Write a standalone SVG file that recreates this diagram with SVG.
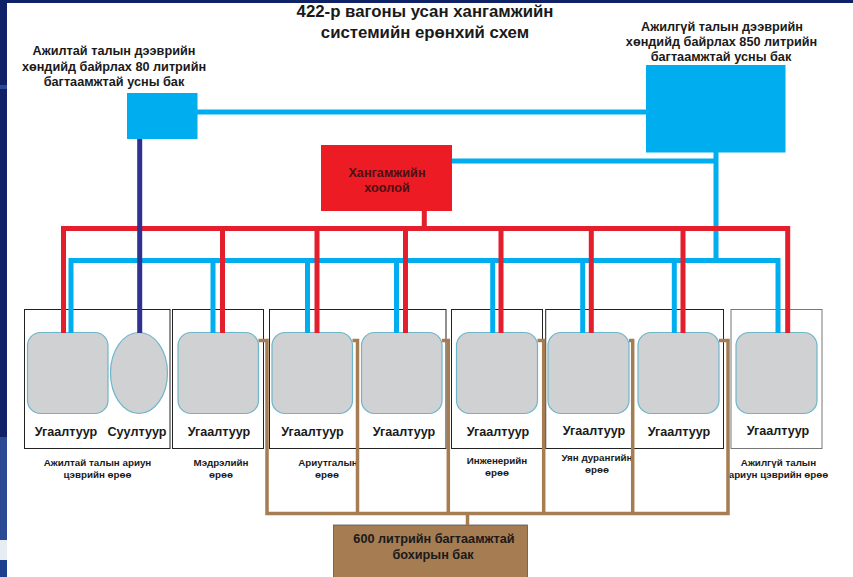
<svg xmlns="http://www.w3.org/2000/svg" width="853" height="577" viewBox="0 0 853 577">
<style>
text{font-family:"Liberation Sans",Arial,sans-serif;font-weight:bold;text-anchor:middle;fill:#1a1a1a}
.t{font-size:16.8px}.l{font-size:12.7px}.u{font-size:12.6px}.c{font-size:9.8px}
.b{fill:#00aeef}.r{fill:#ed1c24}.room{fill:none;stroke:#222;stroke-width:1}
.g{fill:#cfd1d3;stroke:#6fb5c9;stroke-width:1.2}
.pb{fill:none;stroke:#00aeef;stroke-width:5}.pr{fill:none;stroke:#e31e2d;stroke-width:5}
.pw{fill:none;stroke:#a67c52;stroke-width:3.500}
</style>
<rect width="853" height="577" fill="#0f2268"/>
<rect x="0" y="85" width="7" height="4" fill="#2a4a96"/>
<rect x="0" y="437" width="7" height="103" fill="#2a4a96"/>
<rect x="0" y="540" width="7" height="20" fill="#e8edf4"/>
<rect x="0" y="560" width="7" height="17" fill="#1c3f8e"/>
<rect x="7" y="3" width="846" height="574" fill="#fff"/>
<text class="t" x="425" y="17">422-р вагоны усан хангамжийн</text>
<text class="t" x="425" y="38">системийн ерөнхий схем</text>
<g id="tank-80"><rect class="b" x="127" y="93" width="70.500" height="46"/>
<text class="l" x="114" y="55">Ажилтай талын дээврийн</text><text class="l" x="114" y="71">хөндийд байрлах 80 литрийн</text><text class="l" x="114" y="86">багтаамжтай усны бак</text></g>
<g id="tank-850"><rect class="b" x="646" y="65" width="139.500" height="87.500"/>
<text class="l" x="722" y="31">Ажилгүй талын дээврийн</text><text class="l" x="721.500" y="45.500">хөндийд байрлах 850 литрийн</text><text class="l" x="721" y="61">багтаамжтай усны бак</text></g>
<g id="supply"><rect class="r" x="321" y="145" width="131" height="66"/>
<text class="l" x="387" y="177" style="fill:#4a1015">Хангамжийн</text><text class="l" x="387" y="192" style="fill:#4a1015">хоолой</text></g>
<g id="room-1"><rect class="room" x="24.500" y="309.500" width="145.500" height="139"/>
<rect class="g" x="27.500" y="332.500" width="80.500" height="81" rx="13"/><ellipse class="g" cx="139" cy="373" rx="28.500" ry="40.500"/>
<text class="u" x="66" y="436">Угаалтуур</text><text class="u" x="137" y="436">Суултуур</text>
<text class="c" x="97.500" y="466">Ажилтай талын ариун</text><text class="c" x="97.500" y="478">цэврийн өрөө</text></g>
<g id="room-2"><rect class="room" x="172.500" y="309.500" width="91" height="139"/>
<rect class="g" x="178" y="332.500" width="80.500" height="81" rx="13"/>
<text class="u" x="219" y="436">Угаалтуур</text>
<text class="c" x="221" y="466">Мэдрэлийн</text><text class="c" x="221" y="478">өрөө</text></g>
<g id="room-3"><rect class="room" x="269.500" y="309.500" width="176.500" height="139"/>
<rect class="g" x="272" y="332.500" width="80.500" height="81" rx="13"/><rect class="g" x="361.500" y="332.500" width="80.500" height="81" rx="13"/>
<text class="u" x="312.500" y="436">Угаалтуур</text><text class="u" x="404" y="436">Угаалтуур</text>
<text class="c" x="328" y="466">Ариутгалын</text><text class="c" x="327" y="478">өрөө</text></g>
<g id="room-4"><rect class="room" x="451.500" y="309.500" width="91" height="139"/>
<rect class="g" x="456.500" y="332.500" width="81" height="81" rx="13"/>
<text class="u" x="498" y="436">Угаалтуур</text>
<text class="c" x="497" y="463.500">Инженерийн</text><text class="c" x="497" y="476">өрөө</text></g>
<g id="room-5"><rect class="room" x="545.700" y="309.500" width="177.800" height="139"/>
<rect class="g" x="548" y="332.500" width="81" height="81" rx="13"/><rect class="g" x="638" y="332.500" width="81" height="81" rx="13"/>
<text class="u" x="594" y="435">Угаалтуур</text><text class="u" x="679" y="436">Угаалтуур</text>
<text class="c" x="597" y="461">Уян дурангийн</text><text class="c" x="597" y="473">өрөө</text></g>
<g id="room-6"><rect class="room" x="731" y="309.500" width="91" height="139" style="stroke:#777"/>
<rect class="g" x="736" y="332.500" width="81" height="81" rx="13"/>
<text class="u" x="778" y="435">Угаалтуур</text>
<text class="c" x="778.500" y="466">Ажилгүй талын</text><text class="c" x="778.500" y="478">ариун цэврийн өрөө</text></g>
<g id="waste-tank"><rect x="333.500" y="525" width="194" height="53" fill="#a67c52" stroke="#555" stroke-width="0.800"/>
<text class="l" x="434" y="543">600 литрийн багтаамжтай</text><text class="l" x="433" y="558.500">бохирын бак</text></g>
<g id="connectors">
<path class="pb" d="M197 112H646M452 161H716M716 152V260.500M71 333V260.500H778V333M213 260.500V333M307.500 260.500V333M396.500 260.500V333M492.700 260.500V333M582.700 260.500V333M674.300 260.500V333"/>
<path class="pr" d="M424.300 211V228.500M63.500 333V228.500H787.700V333M222.500 228.500V333M317 228.500V333M405.500 228.500V333M501 228.500V333M591.300 228.500V333M683 228.500V333"/>
<path fill="none" stroke="#2e3192" stroke-width="5" d="M139.700 139V333"/>
<path class="pw" d="M258.500 340.500H267V513.500H728V340.500H719M352.500 340.500H357.500V513.500M442 340.500H448.300V513.500M537.500 340.500H543.700V513.500M629 340.500H632.700V513.500M467.500 513.500V525"/>
</g>
</svg>
